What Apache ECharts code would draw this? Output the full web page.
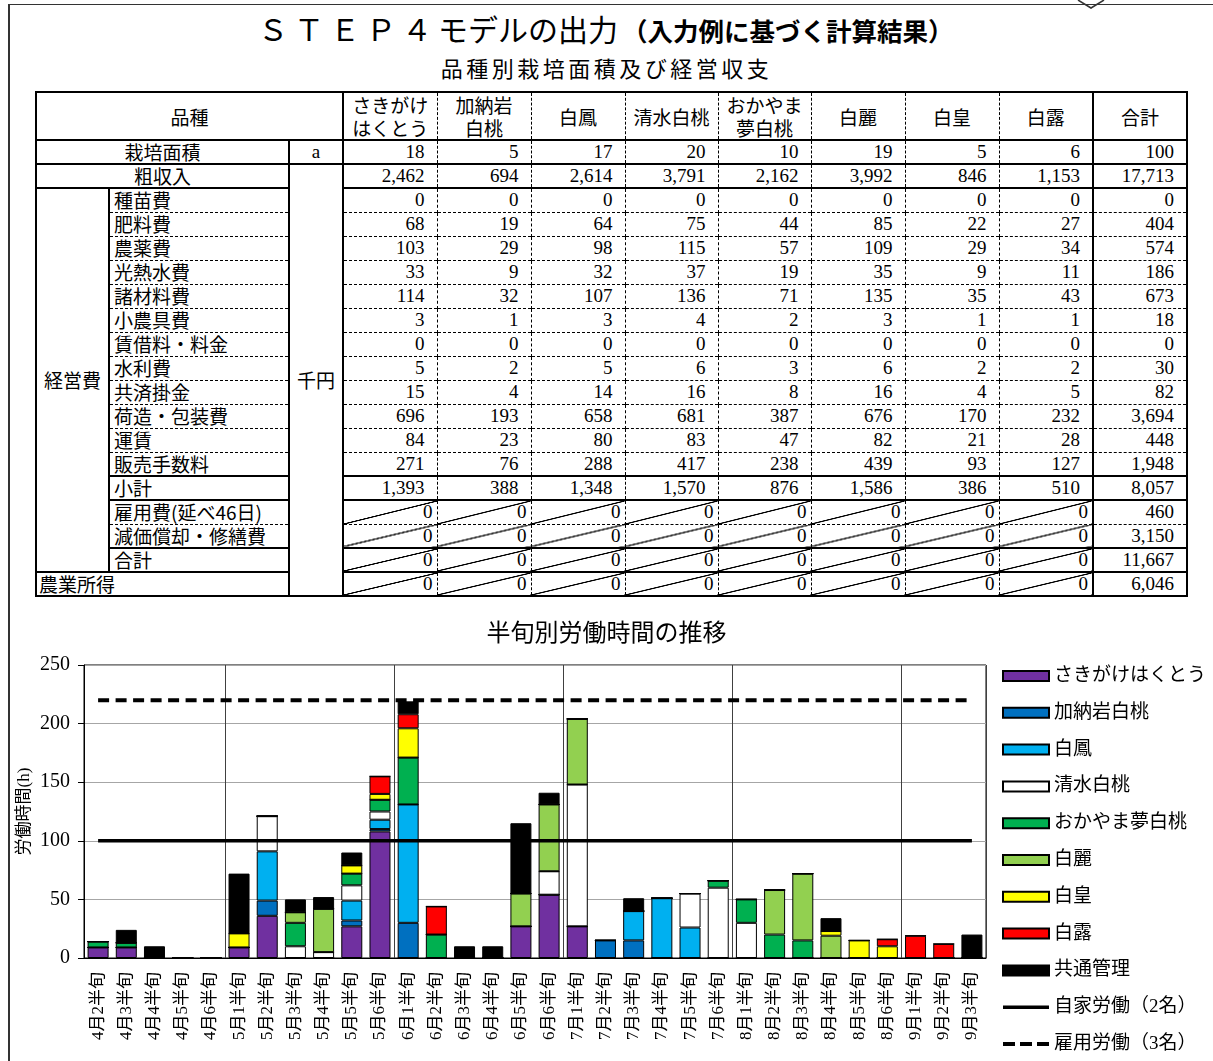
<!DOCTYPE html>
<html lang="ja">
<head>
<meta charset="UTF-8">
<title>STEP4 モデルの出力</title>
<script src="https://cdn.jsdelivr.net/npm/echarts@6/dist/echarts.min.js"></script>
<style>
    body {
        margin: 0;
        width: 1213px;
        height: 1061px;
        position: relative;
        overflow: hidden;
        background: #fff;
        color: #000;
        font-family: 'Liberation Serif', 'Noto Sans CJK JP', serif;
    }
    #frame {
        position: absolute;
        left: 8px;
        top: 4px;
        width: 1300px;
        height: 1100px;
        border-left: 2px solid #333;
        border-top: 1.5px solid #333;
    }
    #title {
        position: absolute;
        left: 258px;
        top: 11px;
        font-size: 30px;
        line-height: 34px;
        white-space: nowrap;
        font-family: 'Noto Sans CJK JP', sans-serif;
    }
    #title .step { letter-spacing: 6px; }
    #title .sub { font-size: 25.5px; font-weight: bold; margin-left: 4px; }
    #subtitle {
        position: absolute;
        left: 0;
        width: 1213px;
        top: 51px;
        text-align: center;
        font-size: 22px;
        letter-spacing: 3.5px;
        font-family: 'Noto Sans CJK JP', sans-serif;
    }
    #tbl {
        position: absolute;
        left: 35px;
        top: 91px;
        width: 1151px;
        table-layout: fixed;
        border-collapse: collapse;
        border: 2px solid #000;
        font-size: 19px;
    }
    #tbl tr { height: 24px; }
    #tbl tr.hd { height: 46px; }
    #tbl td {
        padding: 0 12px 0 4px;
        line-height: 22px;
        border: none;
        white-space: nowrap;
        overflow: hidden;
        text-align: right;
    }
    #tbl tr.hd td { line-height: 23px; }
    #tbl td.c { text-align: center; padding: 0; }
    #tbl td.l { text-align: left; }
    #tbl td.jp { font-family: 'Noto Sans CJK JP', sans-serif; }
    #tbl td.st { border-top: 2px solid #000; }
    #tbl td.dt { border-top: 1px dashed #000; }
    #tbl td.sl { border-left: 2px solid #000; }
    #tbl td.dl { border-left: 1px dashed #000; }
    #tbl td.diag {
        padding-right: 4px;
        background: linear-gradient(to bottom right, transparent calc(50% - 0.9px), #000 calc(50% - 0.4px), #000 calc(50% + 0.4px), transparent calc(50% + 0.9px));
    }
    #chart {
        position: absolute;
        left: 0;
        top: 590px;
        width: 1213px;
        height: 471px;
    }
</style>
</head>
<body>

<div id="frame"></div>
<svg style="position:absolute;left:0;top:0" width="1213" height="12">
    <polyline points="1078,0 1091,8 1104,0" fill="none" stroke="#333" stroke-width="1.5"/>
</svg>

<div id="title"><span class="step">ＳＴＥＰ４</span>モデルの出力<span class="sub">（入力例に基づく計算結果）</span></div>
<div id="subtitle">品種別栽培面積及び経営収支</div>

<table id="tbl"></table>

<div id="chart"></div>

<script>
    // ---- 表のデータ ----
    const varieties = ['さきがけ\nはくとう', '加納岩\n白桃', '白鳳', '清水白桃', 'おかやま\n夢白桃', '白麗', '白皇', '白露', '合計'];
    const area = [18, 5, 17, 20, 10, 19, 5, 6, 100];
    const grossIncome = [2462, 694, 2614, 3791, 2162, 3992, 846, 1153, 17713];
    const costItems = ['種苗費', '肥料費', '農薬費', '光熱水費', '諸材料費', '小農具費', '賃借料・料金', '水利費',
        '共済掛金', '荷造・包装費', '運賃', '販売手数料', '小計', '雇用費(延べ46日)', '減価償却・修繕費', '合計'];
    const costValues = [
        [0, 0, 0, 0, 0, 0, 0, 0, 0],
        [68, 19, 64, 75, 44, 85, 22, 27, 404],
        [103, 29, 98, 115, 57, 109, 29, 34, 574],
        [33, 9, 32, 37, 19, 35, 9, 11, 186],
        [114, 32, 107, 136, 71, 135, 35, 43, 673],
        [3, 1, 3, 4, 2, 3, 1, 1, 18],
        [0, 0, 0, 0, 0, 0, 0, 0, 0],
        [5, 2, 5, 6, 3, 6, 2, 2, 30],
        [15, 4, 14, 16, 8, 16, 4, 5, 82],
        [696, 193, 658, 681, 387, 676, 170, 232, 3694],
        [84, 23, 80, 83, 47, 82, 21, 28, 448],
        [271, 76, 288, 417, 238, 439, 93, 127, 1948],
        [1393, 388, 1348, 1570, 876, 1586, 386, 510, 8057],
        [0, 0, 0, 0, 0, 0, 0, 0, 460],
        [0, 0, 0, 0, 0, 0, 0, 0, 3150],
        [0, 0, 0, 0, 0, 0, 0, 0, 11667]
    ];
    const farmIncome = [0, 0, 0, 0, 0, 0, 0, 0, 6046];
    // 点線で区切る行（経費の index）
    const dottedRows = [1, 2, 3, 4, 5, 6, 7, 8, 9, 10, 11, 14];
    // 斜線を入れる行（経費の index）
    const diagRows = [13, 14, 15];

    // ---- グラフのデータ ----
    const halfMonths = ['4月2半旬', '4月3半旬', '4月4半旬', '4月5半旬', '4月6半旬',
        '5月1半旬', '5月2半旬', '5月3半旬', '5月4半旬', '5月5半旬', '5月6半旬',
        '6月1半旬', '6月2半旬', '6月3半旬', '6月4半旬', '6月5半旬', '6月6半旬',
        '7月1半旬', '7月2半旬', '7月3半旬', '7月4半旬', '7月5半旬', '7月6半旬',
        '8月1半旬', '8月2半旬', '8月3半旬', '8月4半旬', '8月5半旬', '8月6半旬',
        '9月1半旬', '9月2半旬', '9月3半旬'];
    const sakigake = [9, 9, 0, 0, 0, 9, 36, 0, 0, 27, 108, 0, 0, 0, 0, 27, 54, 27, 0, 0, 0, 0, 0, 0, 0, 0, 0, 0, 0, 0, 0, 0];
    const kanouiwa = [0, 0, 0, 0, 0, 0, 13, 0, 0, 5, 2, 30, 0, 0, 0, 0, 0, 0, 15, 15, 0, 0, 0, 0, 0, 0, 0, 0, 0, 0, 0, 0];
    const hakuho = [0, 0, 0, 0, 0, 0, 42, 0, 0, 17, 8, 101, 0, 0, 0, 0, 0, 0, 0, 25, 51, 26, 0, 0, 0, 0, 0, 0, 0, 0, 0, 0];
    const shimizu = [0, 0, 0, 0, 0, 0, 30, 10, 5, 13, 7, 0, 0, 0, 0, 0, 20, 121, 0, 0, 0, 29, 60, 30, 0, 0, 0, 0, 0, 0, 0, 0];
    const okayama = [5, 4, 0, 0, 0, 0, 0, 20, 0, 10, 10, 40, 20, 0, 0, 0, 0, 0, 0, 0, 0, 0, 6, 20, 20, 15, 0, 0, 0, 0, 0, 0];
    const hakurei = [0, 0, 0, 0, 0, 0, 0, 9, 37, 0, 0, 0, 0, 0, 0, 28, 57, 56, 0, 0, 0, 0, 0, 0, 38, 57, 19, 0, 0, 0, 0, 0];
    const hakuou = [0, 0, 0, 0, 0, 12, 0, 0, 0, 7, 5, 25, 0, 0, 0, 0, 0, 0, 0, 0, 0, 0, 0, 0, 0, 0, 4, 15, 10, 0, 0, 0];
    const hakuro = [0, 0, 0, 0, 0, 0, 0, 0, 0, 0, 15, 12, 24, 0, 0, 0, 0, 0, 0, 0, 0, 0, 0, 0, 0, 0, 0, 0, 6, 19, 12, 0];
    const kyotsu = [0, 11, 10, 0, 0, 51, 0, 11, 10, 11, 0, 11, 0, 10, 10, 60, 10, 0, 0, 11, 0, 0, 0, 0, 0, 0, 11, 0, 0, 0, 0, 20];
    const ownLabor = [100, 100, 100, 100, 100, 100, 100, 100, 100, 100, 100, 100, 100, 100, 100, 100,
        100, 100, 100, 100, 100, 100, 100, 100, 100, 100, 100, 100, 100, 100, 100, 100];
    const hiredLabor = [220, 220, 220, 220, 220, 220, 220, 220, 220, 220, 220, 220, 220, 220, 220, 220,
        220, 220, 220, 220, 220, 220, 220, 220, 220, 220, 220, 220, 220, 220, 220, 220];
    const yTicks = [0, 50, 100, 150, 200, 250];

    const barNames = ['さきがけはくとう', '加納岩白桃', '白鳳', '清水白桃', 'おかやま夢白桃', '白麗', '白皇', '白露', '共通管理'];
    const lineNames = ['自家労働（2名）', '雇用労働（3名）'];
    const barColors = ['#7030A0', '#0070C0', '#00B0F0', '#FFFFFF', '#00B050', '#92D050', '#FFFF00', '#FF0000', '#000000'];
    const barValues = [sakigake, kanouiwa, hakuho, shimizu, okayama, hakurei, hakuou, hakuro, kyotsu];
    const monthStarts = [5, 11, 17, 23, 29];

    // ---- 表を組み立てる ----
    function fmt(n) {
        return n.toLocaleString('en-US');
    }
    function colCls(i) {
        return (i === 0 || i === 8) ? 'sl' : 'dl';
    }
    function valueCells(vals, rowCls, diag) {
        return vals.map((v, i) => {
            const d = (diag && i < 8) ? ' diag' : '';
            return `<td class="${rowCls} ${colCls(i)}${d}">${fmt(v)}</td>`;
        }).join('');
    }

    const colWidths = [73, 180, 54, 94, 94, 94, 93, 93, 94, 94, 94, 94];
    let html = '<colgroup>' + colWidths.map(w => `<col style="width:${w}px">`).join('') + '</colgroup>';
    html += '<tr class="hd"><td colspan="3" class="c jp">品種</td>' +
        varieties.map((v, i) => `<td class="c jp ${colCls(i)}">${v.replace('\n', '<br>')}</td>`).join('') + '</tr>';
    html += '<tr><td colspan="2" class="c jp st">栽培面積</td><td class="c st sl">a</td>' + valueCells(area, 'st', false) + '</tr>';
    html += '<tr><td colspan="2" class="c jp st">粗収入</td><td rowspan="18" class="c jp st sl">千円</td>' +
        valueCells(grossIncome, 'st', false) + '</tr>';
    costItems.forEach((item, r) => {
        const rc = dottedRows.includes(r) ? 'dt' : 'st';
        let row = '<tr>';
        if (r === 0) row += `<td rowspan="${costItems.length}" class="c jp st">経営費</td>`;
        row += `<td class="l jp ${rc} sl">${item}</td>`;
        row += valueCells(costValues[r], rc, diagRows.includes(r));
        html += row + '</tr>';
    });
    html += '<tr><td colspan="2" class="l jp st" style="padding-left:2px">農業所得</td>' + valueCells(farmIncome, 'st', true) + '</tr>';
    document.getElementById('tbl').innerHTML = html;

    // ---- グラフ ----
    const fontFamily = "'Liberation Serif', 'Noto Sans CJK JP', serif";
    const chart = echarts.init(document.getElementById('chart'));

    const series = barNames.map((name, i) => ({
        name: name,
        type: 'bar',
        stack: 'total',
        barWidth: 21,
        data: barValues[i],
        itemStyle: {
            color: barColors[i],
            borderColor: '#000',
            borderWidth: 1
        }
    }));
    series.push({
        name: lineNames[0],
        type: 'line',
        data: ownLabor,
        symbol: 'none',
        itemStyle: { color: '#000' },
        lineStyle: { color: '#000', width: 3.5 }
    });
    series.push({
        name: lineNames[1],
        type: 'line',
        data: hiredLabor,
        symbol: 'none',
        itemStyle: { color: '#000' },
        lineStyle: { color: '#000', width: 4, type: [11, 6.5] }
    });

    // 凡例: 棒は四角、線は線のみ（記号は隠す）
    const legendData = barNames.map(n => ({ name: n, icon: 'rect' })).concat([
        { name: lineNames[0], itemStyle: { opacity: 0 }, lineStyle: { color: '#000', width: 3.5, type: 'solid' } },
        { name: lineNames[1], itemStyle: { opacity: 0 }, lineStyle: { color: '#000', width: 4, type: [12, 5] } }
    ]);

    const option = {
        animation: false,
        title: {
            text: '半旬別労働時間の推移',
            left: 'center',
            top: 25,
            textStyle: { fontSize: 24, fontWeight: 'normal', color: '#000', fontFamily: 'Noto Sans CJK JP' }
        },
        legend: {
            orient: 'vertical',
            left: 1001,
            top: 76,
            padding: 0,
            itemWidth: 46,
            itemHeight: 10,
            itemGap: 16.8,
            textStyle: { fontSize: 19, lineHeight: 20, color: '#000', fontFamily: fontFamily },
            data: legendData
        },
        grid: {
            left: 84,
            top: 75,
            right: 227,
            bottom: 103,
            show: true,
            borderColor: '#000',
            borderWidth: 1
        },
        xAxis: {
            type: 'category',
            data: halfMonths,
            axisLine: { lineStyle: { color: '#000' } },
            axisTick: { interval: 0, length: 5, lineStyle: { color: '#000' } },
            axisLabel: { interval: 0, rotate: 90, fontSize: 17, margin: 14, color: '#000', fontFamily: fontFamily },
            splitLine: {
                show: true,
                interval: (idx) => monthStarts.includes(idx),
                lineStyle: { color: '#404040', width: 1 }
            }
        },
        yAxis: {
            type: 'value',
            min: yTicks[0],
            max: yTicks[yTicks.length - 1],
            interval: 50,
            name: '労働時間(h)',
            nameLocation: 'middle',
            nameGap: 51,
            nameMoveOverlap: false,
            nameTextStyle: { fontSize: 17, color: '#000', fontFamily: fontFamily },
            axisLine: { show: true, lineStyle: { color: '#000' } },
            axisTick: { show: true, length: 6, lineStyle: { color: '#000' } },
            axisLabel: { fontSize: 20, margin: 14, color: '#000', fontFamily: fontFamily },
            splitLine: { lineStyle: { color: '#A6A6A6', width: 1 } }
        },
        series: series
    };

    chart.setOption(option);
</script>

</body>
</html>
